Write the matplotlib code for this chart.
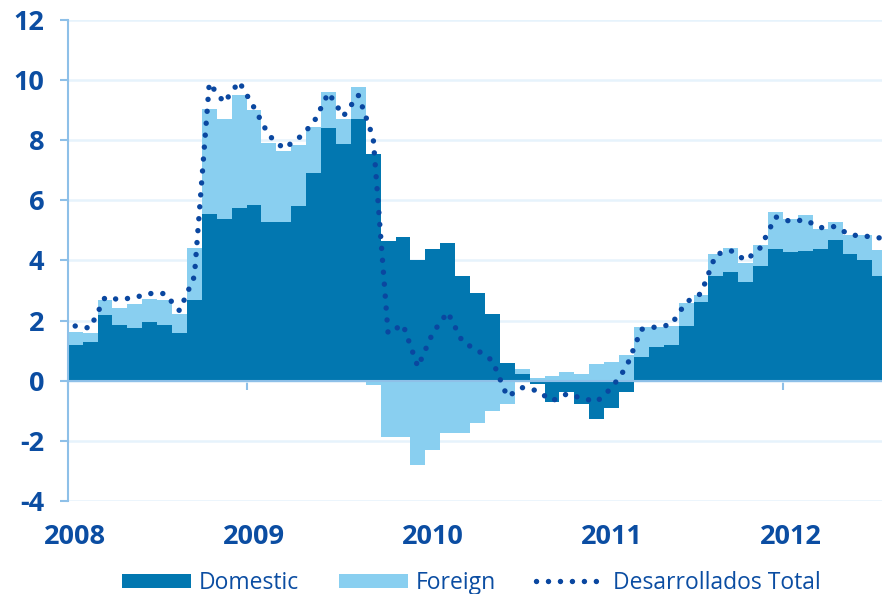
import numpy as np
import matplotlib
matplotlib.use('Agg')
import matplotlib.pyplot as plt
from matplotlib.patches import Patch
from matplotlib.lines import Line2D
from matplotlib.font_manager import FontProperties

c_dom = '#0277b0'   # domestic
c_for = '#89cff0'   # foreign
c_tot = '#0a47a0'   # total (dotted)
c_txt = '#0b4da2'
c_ax = '#8ec0e8'
c_grid = '#e6f3fc'

plt.rcParams['font.family'] = ['Open Sans', 'DejaVu Sans']
fp_bold = FontProperties(family='Open Sans', weight='bold', size=19.5)

# ---- data (monthly, Jan 2008 .. Jul 2012) ----
years = ['2008', '2009', '2010', '2011', '2012']

domestic = [1.19, 1.30, 2.19, 1.86, 1.77, 1.95, 1.86, 1.60, 2.67, 5.56, 5.38, 5.75,
            5.86, 5.27, 5.29, 5.80, 6.90, 8.41, 7.88, 8.71, 7.53, 4.65, 4.77, 4.01,
            4.38, 4.59, 3.49, 2.91, 2.23, 0.59, 0.21, -0.10, -0.70, -0.39, -0.78, -1.28,
            -0.92, -0.39, 0.79, 1.12, 1.18, 1.82, 2.63, 3.47, 3.60, 3.30, 3.80, 4.39,
            4.27, 4.32, 4.39, 4.69, 4.22, 4.00, 3.47]

foreign = [0.43, 0.28, 0.50, 0.57, 0.78, 0.77, 0.82, 0.62, 1.76, 3.49, 3.33, 3.74,
           3.14, 2.64, 2.34, 2.03, 1.55, 1.19, 0.81, 1.07, -0.14, -1.87, -1.87, -2.79,
           -2.29, -1.75, -1.75, -1.39, -1.00, -0.79, 0.17, 0.10, 0.15, 0.28, 0.23, 0.57,
           0.63, 0.86, 1.00, 0.68, 0.64, 0.77, 0.23, 0.75, 0.81, 0.61, 0.71, 1.23,
           1.12, 1.20, 0.67, 0.60, 0.64, 0.86, 0.89]

total = [1.82, 1.75, 2.77, 2.70, 2.77, 2.90, 2.90, 2.33, 3.47, 9.90, 9.25, 9.95,
         9.09, 8.16, 7.72, 8.07, 8.58, 9.58, 8.80, 9.50, 8.08, 1.58, 1.87, 0.46,
         1.59, 2.28, 1.29, 1.01, 0.67, -0.53, -0.23, -0.33, -0.67, -0.44, -0.58, -0.70,
         -0.24, 0.46, 1.71, 1.79, 1.86, 2.61, 2.90, 4.20, 4.33, 4.00, 4.43, 5.45,
         5.30, 5.35, 5.09, 5.13, 4.85, 4.81, 4.75]

dom = np.array(domestic)
fore = np.array(foreign)
months = np.arange(len(dom))
fore_bottom = np.where(np.sign(dom) == np.sign(fore), dom, 0)

dotted = (0, (0.01, 2.2))

fig = plt.figure(figsize=(8.82, 5.94), dpi=100)
ax = fig.add_axes([0.0768, 0.1566, 0.9232, 0.8098])

ax.bar(months, dom, width=1, align='edge', color=c_dom, lw=0, zorder=2)
ax.bar(months, fore, bottom=fore_bottom, width=1, align='edge', color=c_for, lw=0, zorder=2)
ax.plot(months + 0.5, total, color=c_tot, lw=3.9, ls=dotted,
        dash_capstyle='round', zorder=4)

ax.set_xlim(0, 54.65)
ax.set_ylim(-4, 12)

# y axis
ax.tick_params(axis='y', length=6, width=1.5, color=c_ax, labelcolor=c_txt, pad=11)
ax.set_yticks(np.arange(-4, 13, 2))
ax.set_yticklabels([str(v) for v in range(-4, 13, 2)], fontproperties=fp_bold)
ax.grid(axis='y', color=c_grid, lw=1.8, zorder=0)
ax.set_axisbelow(True)

# x axis on the zero line; year labels under the plot, shifted half a month
year_pos = np.arange(len(years)) * 12
ax.tick_params(axis='x', length=6.5, width=1.5, color=c_ax)
ax.set_xticks(year_pos)
ax.set_xticklabels([])
for xp, yr in zip(year_pos, years):
    ax.text(xp + 0.5, -0.09, yr, transform=ax.get_xaxis_transform(),
            ha='center', va='baseline', fontproperties=fp_bold, color=c_txt)

for s in ['top', 'right']:
    ax.spines[s].set_visible(False)
ax.spines['left'].set_color(c_ax)
ax.spines['left'].set_linewidth(1.5)
ax.spines['bottom'].set_position(('data', 0))
ax.spines['bottom'].set_color(c_ax)
ax.spines['bottom'].set_linewidth(1.5)
ax.spines['bottom'].set_zorder(3)

handles = [Patch(facecolor=c_dom, label='Domestic'),
           Patch(facecolor=c_for, label='Foreign'),
           Line2D([0], [0], color=c_tot, lw=3.9, ls=dotted,
                  dash_capstyle='round', label='Desarrollados Total')]
fig.legend(handles=handles, loc='upper left', bbox_to_anchor=(122 / 882, 0.039),
           ncol=3, frameon=False, fontsize=16.5, handlelength=3.0,
           handleheight=0.55, handletextpad=0.35, columnspacing=1.75,
           borderpad=0, borderaxespad=0, labelcolor=c_txt)

fig.savefig('out.png', dpi=100)
